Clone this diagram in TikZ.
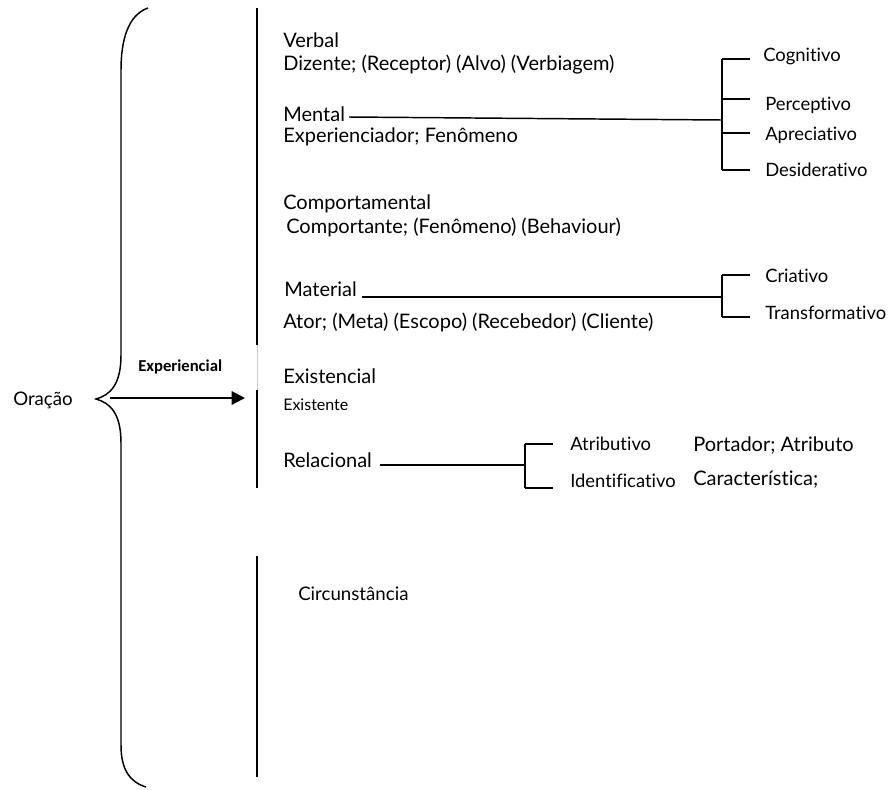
\documentclass[tikz,border=0pt]{standalone}
\usepackage{fontspec}
\setmainfont{Lato}[Ligatures=NoCommon]
\newfontfamily\calibri{Carlito}
\usetikzlibrary{positioning,arrows.meta}

\begin{document}
\begin{tikzpicture}[
    x=0.75pt, y=-0.75pt,
    every node/.style={
        anchor=west,
        inner sep=0pt,
        text height=1.5ex, text depth=.25ex,
        font=\fontsize{15}{17}\selectfont
    },
    sub/.style={font=\fontsize{13.8}{16}\selectfont},
    mid/.style={font=\fontsize{14}{16}\selectfont},
    small/.style={font=\fontsize{12}{14}\selectfont},
    rule/.style={line width=1.5pt},
    fork/.style={line width=1.1pt}
]
\useasboundingbox (0,0) rectangle (891,789);

% brace
\draw[line width=1.1pt] (148,8) .. controls (128,15) and (121,40) .. (121,70)
    -- (121,355) .. controls (121,385) and (110,395) .. (96,399)
    .. controls (110,403) and (121,413) .. (121,443)
    -- (121,745) .. controls (121,770) and (130,782) .. (146,787);

\node[mid] (oracao) at (13,401) {Oração};
\node[font=\calibri\bfseries\fontsize{12.5}{14}\selectfont] (experiencial) at (138,367) {Experiencial};
\coordinate (arrowstart) at (110,398);
\coordinate (arrowend) at (245,398);
\draw[line width=1.6pt, -{Triangle[length=10pt,width=10pt]}] (arrowstart) -- (arrowend);

% rules
\draw[rule] (257,8) -- (257,345);
\draw[gray!40, thin] (257,345) -- (257,390);
\draw[rule] (257,390) -- (257,488);
\draw[rule] (257,556) -- (257,777);

% processes
\node (verbal) at (283,43) {Verbal};
\node (dizente) at (283,66) {Dizente; (Receptor) (Alvo) (Verbiagem)};
\node (mental) at (283,117) {Mental};
\node (exper) at (283,138) {Experienciador; Fenômeno};
\node (comport) at (283,205) {Comportamental};
\node (comptante) at (286,229) {Comportante; (Fenômeno) (Behaviour)};
\node (material) at (284,292) {Material};
\node (ator) at (283,324) {Ator; (Meta) (Escopo) (Recebedor) (Cliente)};
\node (exist) at (283,379) {Existencial};
\node[small] (existente) at (283,406) {Existente};
\node (relac) at (283,463) {Relacional};
\node[mid] (circ) at (298,596) {Circunstância};

% mental types
\node[sub] (cogn) at (763,57) {Cognitivo};
\node[sub] (percep) at (765,106) {Perceptivo};
\node[sub] (aprec) at (765,136) {Apreciativo};
\node[sub] (desid) at (765,172) {Desiderativo};
\coordinate (mfork) at (722,120);
\draw[fork] ([xshift=3]mental.east) -- (mfork);
\draw[fork] (722,59) -- (722,170);
\foreach \y in {59,99,133,170}
    \draw[fork] (722,\y) -- (750,\y);

% material types
\node[sub] (criat) at (765,278) {Criativo};
\node[sub] (transf) at (765,315) {Transformativo};
\coordinate (matfork) at (722,297);
\draw[fork] ([xshift=4]material.east |- matfork) -- (matfork);
\draw[fork] (722,275) -- (722,317);
\foreach \y in {275,317}
    \draw[fork] (722,\y) -- (750,\y);

% relational types
\node[sub] (atrib) at (570,446) {Atributivo};
\node[sub] (ident) at (570,483) {Identificativo};
\node (portador) at (693,447) {Portador; Atributo};
\node (caract) at (693,481) {Característica;};
\coordinate (rfork) at (525,465);
\draw[fork] ([xshift=6]relac.east |- rfork) -- (rfork);
\draw[fork] (525,444) -- (525,488);
\foreach \y in {444,488}
    \draw[fork] (525,\y) -- (553,\y);
\end{tikzpicture}
\end{document}
